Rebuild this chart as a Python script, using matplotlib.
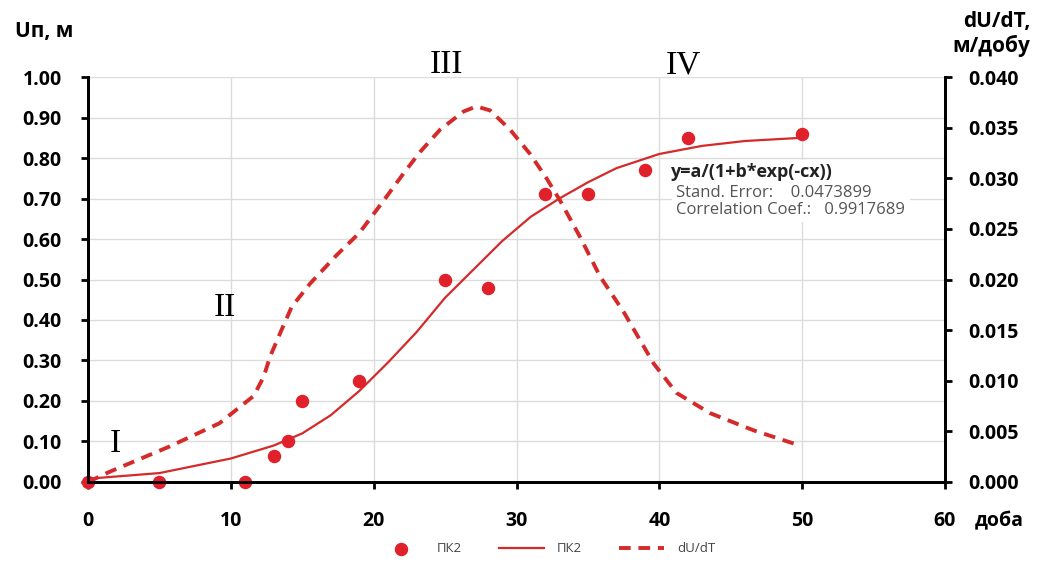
import matplotlib
matplotlib.use("Agg")
import matplotlib.pyplot as plt
from matplotlib.ticker import FormatStrFormatter, MultipleLocator

# Measured points (ПК2)
days_obs = [0, 5, 11, 13, 14, 15, 19, 25, 28, 32, 35, 39, 42, 50]
u_obs = [0.00, 0.00, 0.00, 0.065, 0.10, 0.20, 0.25, 0.50, 0.48, 0.71, 0.71, 0.77, 0.85, 0.86]

# Fitted logistic curve
days_fit = [0, 5, 10, 13, 15, 17, 19, 21, 23, 25, 27, 29, 31, 33, 35, 37, 40, 43, 46, 50]
u_fit = [0.008, 0.022, 0.058, 0.09, 0.12, 0.165, 0.225, 0.295, 0.37, 0.455, 0.525, 0.595,
         0.655, 0.70, 0.74, 0.775, 0.81, 0.83, 0.842, 0.85]

# dU/dT curve
days_rate = [0, 1.5, 5.7, 9.2, 11.6, 12.3, 12.75, 13.45, 14.26, 15.55, 17.4, 19, 20.7, 22.1,
             23.25, 24.65, 26.3, 27.2, 28.15, 29.55, 30.95, 32.1, 33.05, 34.45, 35.85, 37.5,
             39.6, 41.2, 43.55, 46.6, 49.4]
rate = [0.0, 0.001, 0.0035, 0.0058, 0.0085, 0.0104, 0.0124, 0.0147, 0.0173, 0.0196, 0.0224,
        0.0246, 0.0278, 0.0305, 0.0326, 0.0348, 0.0366, 0.0371, 0.0367, 0.0348, 0.0324, 0.030,
        0.0278, 0.0242, 0.0203, 0.0168, 0.0117, 0.0088, 0.0068, 0.0051, 0.0038]

stage_labels = ["I", "II", "III", "IV"]
stage_x = [1.9, 9.6, 25.1, 41.7]
stage_y = [0.095, 0.43, 1.03, 1.03]

RED = "#E0202A"
LINE_RED = "#D42A2A"
FONT = "Open Sans"

fig = plt.figure(figsize=(10.38, 5.63), dpi=100)
ax = fig.add_axes([0.0848, 0.1439, 0.8256, 0.7193])
ax2 = ax.twinx()

ax.set_xlim(0, 60)
ax.set_ylim(0, 1.0)
ax2.set_ylim(0, 0.04)
ax.xaxis.set_major_locator(MultipleLocator(10))
ax.yaxis.set_major_locator(MultipleLocator(0.1))
ax2.yaxis.set_major_locator(MultipleLocator(0.005))
ax.yaxis.set_major_formatter(FormatStrFormatter("%.2f"))
ax2.yaxis.set_major_formatter(FormatStrFormatter("%.3f"))

ax.grid(True, color="#dcdcdc", linewidth=1.0)
ax.set_axisbelow(True)

for a in (ax, ax2):
    a.spines["top"].set_visible(False)
    for s in ("left", "right", "bottom"):
        a.spines[s].set_linewidth(2.0)
        a.spines[s].set_color("black")
ax.tick_params(axis="both", direction="out", length=5, width=2.0)
ax.tick_params(axis="x", pad=16)
ax.tick_params(axis="y", pad=14)
ax2.tick_params(axis="y", direction="out", length=5, width=2.0, pad=12)

for lbl in ax.get_xticklabels() + ax.get_yticklabels() + ax2.get_yticklabels():
    lbl.set_fontfamily(FONT)
    lbl.set_fontweight("bold")
    lbl.set_fontsize(14)

sc = ax.scatter(days_obs, u_obs, s=75, color=RED, zorder=5, clip_on=False, label="ПК2")
ln, = ax.plot(days_fit, u_fit, color=LINE_RED, linewidth=1.6, zorder=4, label="ПК2")
dl, = ax2.plot(days_rate, rate, color=LINE_RED, linewidth=2.8, dashes=(3, 2), label="dU/dT")

for t, x, y in zip(stage_labels, stage_x, stage_y):
    ax.text(x, y, t, family="Liberation Serif", fontsize=24, ha="center", va="center",
            clip_on=False)

ax.text(41.2, 0.692, "Stand. Error:    0.0473899\nCorrelation Coef.:   0.9917689",
        family=FONT, fontsize=12, color="#555555", ha="left", va="center", linespacing=1.05,
        zorder=1.1, bbox=dict(facecolor="white", edgecolor="none", pad=3))
ax.text(40.85, 0.765, "y=a/(1+b*exp(-cx))", family=FONT, fontweight="bold", fontsize=13,
        color="#222222", ha="left", va="center", zorder=1.2,
        bbox=dict(facecolor="white", edgecolor="none", pad=2))

fig.text(15 / 1038, 1 - 32 / 563, "Uп, м", family=FONT, fontweight="bold", fontsize=15,
         ha="left", va="center")
fig.text(1030 / 1038, 1 - 34 / 563, "dU/dT,\nм/добу", family=FONT, fontweight="bold",
         fontsize=15, ha="right", va="center", multialignment="right", linespacing=1.15)
fig.text(975 / 1038, 1 - 521 / 563, "доба", family=FONT, fontweight="bold", fontsize=14,
         ha="left", va="center")

leg = fig.legend(handles=[sc, ln, dl], loc="center", bbox_to_anchor=(547 / 1038, 1 - 549 / 563),
                 ncol=3, frameon=False, prop={"family": FONT, "size": 9.5},
                 handlelength=3.4, columnspacing=2.8, handletextpad=1.0)
for t in leg.get_texts():
    t.set_color("#444444")

fig.savefig("out.png", dpi=100)
